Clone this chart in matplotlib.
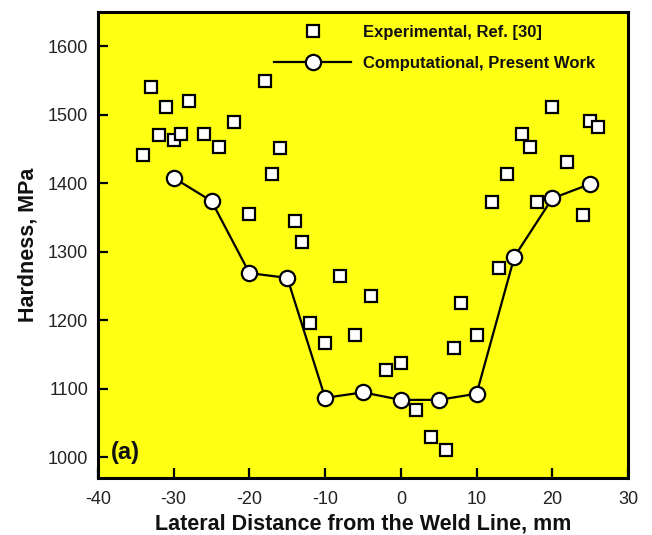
import matplotlib
matplotlib.use("Agg")
import matplotlib.pyplot as plt

plt.rcParams['font.family'] = ['Liberation Sans', 'DejaVu Sans']
plt.rcParams['axes.unicode_minus'] = False

# Experimental hardness, Ref. [30]
exp_x = [-34, -33, -32, -31, -30, -29, -28, -26, -24, -22, -20, -18, -17, -16,
         -14, -13, -12, -10, -8, -6, -4, -2, 0, 2, 4, 6, 7, 8, 10, 12, 13, 14,
         16, 17, 18, 20, 22, 24, 25, 26]
exp_y = [1442, 1540, 1470, 1511, 1463, 1472, 1520, 1472, 1453, 1490, 1355, 1550,
         1413, 1451, 1345, 1314, 1196, 1167, 1265, 1178, 1236, 1128, 1138, 1069,
         1030, 1011, 1159, 1226, 1178, 1373, 1276, 1413, 1472, 1453, 1373, 1511,
         1431, 1354, 1491, 1482]

# Computed hardness, present work
comp_x = [-30, -25, -20, -15, -10, -5, 0, 5, 10, 15, 20, 25]
comp_y = [1408, 1374, 1269, 1262, 1087, 1095, 1084, 1084, 1093, 1293, 1378, 1399]

x_ticks = [-40, -30, -20, -10, 0, 10, 20, 30]
y_ticks = [1000, 1100, 1200, 1300, 1400, 1500, 1600]

fig = plt.figure(figsize=(6.52, 5.35), dpi=100)
ax = fig.add_axes([0.1503, 0.1065, 0.8129, 0.8711])
ax.set_facecolor('#FFFF14')

ax.plot(exp_x, exp_y, linestyle='none', marker='s', markersize=8.3,
        markerfacecolor='white', markeredgecolor='black', markeredgewidth=1.6,
        label='Experimental, Ref. [30]', zorder=3)
ax.plot(comp_x, comp_y, color='black', linewidth=1.6, marker='o', markersize=11,
        markerfacecolor='white', markeredgecolor='black', markeredgewidth=1.6,
        label='Computational, Present Work', zorder=4)

ax.set_xlim(-40, 30)
ax.set_ylim(970, 1650)
ax.set_xticks(x_ticks)
ax.set_yticks(y_ticks)
ax.tick_params(direction='in', length=7.5, width=1.6, labelsize=13,
               labelcolor='#222222', top=False, right=False, pad=7)
ax.tick_params(axis='x', pad=9)
for s in ax.spines.values():
    s.set_linewidth(2.2)

ax.set_xlabel('Lateral Distance from the Weld Line, mm', fontsize=15.5,
              fontweight='bold', labelpad=4, color='#111111')
ax.set_ylabel('Hardness, MPa', fontsize=15.5, fontweight='bold', labelpad=7,
              color='#111111')

ax.text(0.025, 0.055, '(a)', transform=ax.transAxes, fontsize=17,
        fontweight='bold', ha='left', va='center', color='#111111')

leg = ax.legend(loc='upper left', bbox_to_anchor=(0.3105, 0.997), frameon=False,
                fontsize=12, handlelength=4.6, handletextpad=0.72,
                labelspacing=0.97, borderaxespad=0.3)
for t in leg.get_texts():
    t.set_fontweight('bold')
    t.set_color('#111111')

fig.savefig('out.png', dpi=100)
